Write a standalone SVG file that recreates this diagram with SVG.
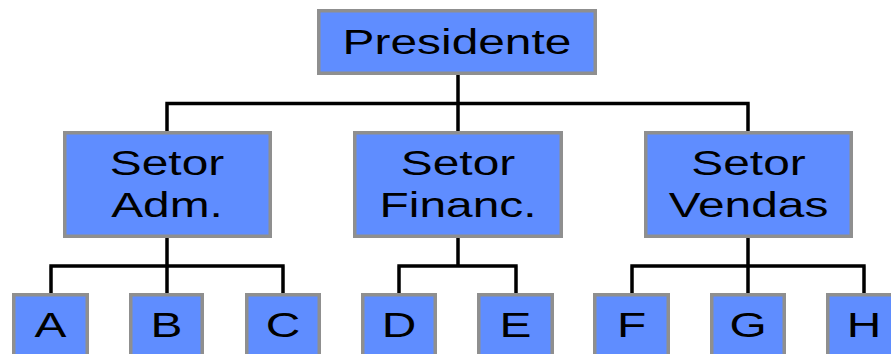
<svg xmlns="http://www.w3.org/2000/svg" width="891" height="354" viewBox="0 0 891 354">
<style>
.box{fill:#5F8DFF;stroke:#8F8F8F;stroke-width:3.5}
.t{font-family:"Liberation Sans",Arial,sans-serif;font-size:36px;fill:#000;text-anchor:middle}
.ln{stroke:#000;stroke-width:3.5;fill:none;stroke-linecap:butt}
</style>
<rect width="891" height="354" fill="#fff"/>
<g id="connectors">
<path class="ln" d="M458,75V103.5M165.3,103.5H749.7M167,103.5V131M458,103.5V131M748,103.5V131"/>
<path class="ln" d="M167,238V266M49.3,266H284.7M51,266V293M167,266V293M283,266V293"/>
<path class="ln" d="M458,238V266M397.3,266H517.7M399,266V293M516,266V293"/>
<path class="ln" d="M748,238V266M630.3,266H865.7M632,266V293M748,266V293M864,266V293"/>
</g>
<g id="presidente"><rect class="box" x="318.75" y="10.75" width="276.5" height="62.5"/><text class="t" transform="matrix(1.33,0,0,1,457,54)">Presidente</text></g>
<g id="setor-adm"><rect class="box" x="64.75" y="132.75" width="205.5" height="103.5"/><text class="t" transform="matrix(1.33,0,0,1,167,175)">Setor</text><text class="t" transform="matrix(1.33,0,0,1,167,217)">Adm.</text></g>
<g id="setor-financ"><rect class="box" x="354.75" y="132.75" width="206.5" height="103.5"/><text class="t" transform="matrix(1.33,0,0,1,458,175)">Setor</text><text class="t" transform="matrix(1.33,0,0,1,458,217)">Financ.</text></g>
<g id="setor-vendas"><rect class="box" x="645.75" y="132.75" width="205.5" height="103.5"/><text class="t" transform="matrix(1.33,0,0,1,748.5,175)">Setor</text><text class="t" transform="matrix(1.33,0,0,1,748.5,217)">Vendas</text></g>
<g id="a"><rect class="box" x="13.75" y="294.75" width="73.5" height="70"/><text class="t" transform="matrix(1.33,0,0,1,50.5,337)">A</text></g>
<g id="b"><rect class="box" x="130.75" y="294.75" width="71.5" height="70"/><text class="t" transform="matrix(1.33,0,0,1,166.5,337)">B</text></g>
<g id="c"><rect class="box" x="246.75" y="294.75" width="72.5" height="70"/><text class="t" transform="matrix(1.33,0,0,1,283,337)">C</text></g>
<g id="d"><rect class="box" x="362.75" y="294.75" width="72.5" height="70"/><text class="t" transform="matrix(1.33,0,0,1,399,337)">D</text></g>
<g id="e"><rect class="box" x="478.75" y="294.75" width="73.5" height="70"/><text class="t" transform="matrix(1.33,0,0,1,515.5,337)">E</text></g>
<g id="f"><rect class="box" x="594.75" y="294.75" width="73.5" height="70"/><text class="t" transform="matrix(1.33,0,0,1,631.5,337)">F</text></g>
<g id="g"><rect class="box" x="711.75" y="294.75" width="72.5" height="70"/><text class="t" transform="matrix(1.33,0,0,1,748,337)">G</text></g>
<g id="h"><rect class="box" x="827.75" y="294.75" width="73.5" height="70"/><text class="t" transform="matrix(1.33,0,0,1,864,337)">H</text></g>
</svg>
